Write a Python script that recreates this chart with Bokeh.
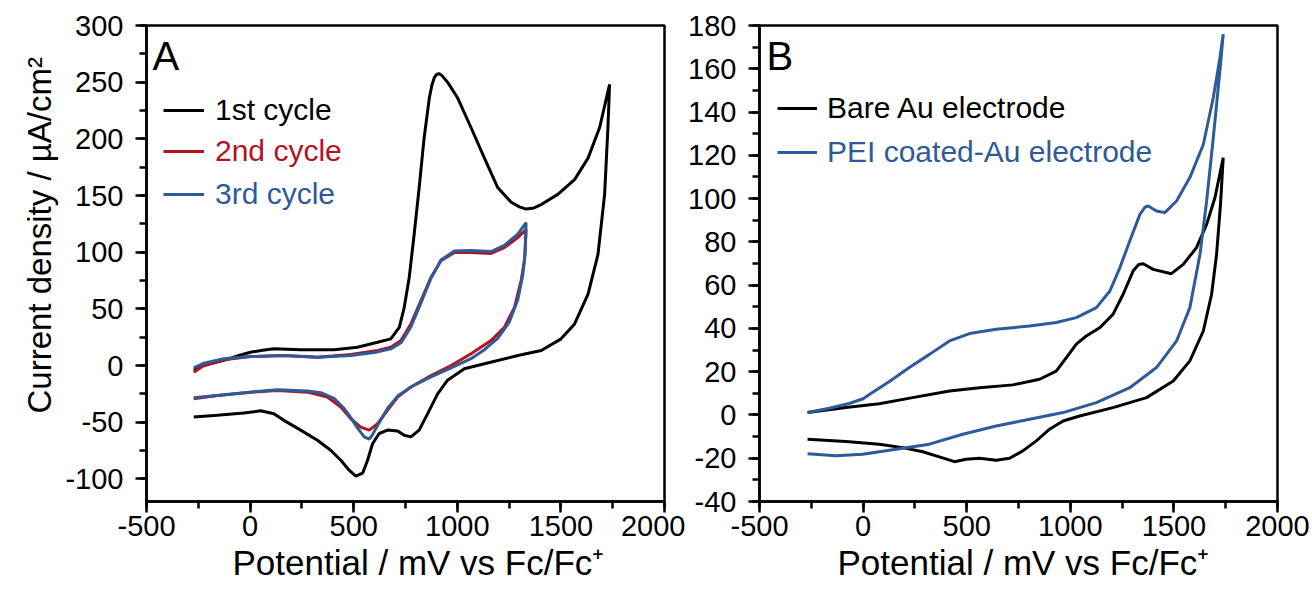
from bokeh.plotting import figure
from bokeh.models import (Range1d, SingleIntervalTicker, Legend, LegendItem, Label, Title,
                          PrintfTickFormatter)
from bokeh.layouts import row
from bokeh.embed import file_html
from bokeh.resources import INLINE

# ---------------- Panel A data (potential mV vs Fc/Fc+, current density uA/cm2)
cyc1_x = [-272, -223, -160, -100, -50, 2, 60, 115, 244, 405, 518, 615, 679, 720, 744, 768, 792, 816,
          840, 865, 877, 889, 901, 913, 925, 953, 1002, 1066, 1131, 1195, 1260, 1300, 1332, 1370, 1405,
          1485, 1566, 1631, 1687, 1735, 1727, 1711, 1679, 1631, 1566, 1501, 1405, 1292, 1131, 1034, 953,
          905, 857, 816, 776, 744, 712, 663, 623, 591, 567, 543, 510, 478, 438, 389, 325, 244, 163, 115,
          51, -30, -159, -272]
cyc1_y = [-4, 0, 3, 6, 9, 11.7, 13.5, 14.7, 13.8, 13.8, 16.1, 20.5, 23.5, 33.7, 51.3, 77.7, 116, 157,
          201, 236, 247, 254, 257, 257.5, 256, 250, 236, 210, 183, 157, 144, 140, 138, 139, 142,
          151, 164, 183, 210, 248, 210, 151, 98, 63, 36.7, 23.5, 13.2, 8.8, 1.5, -2.9, -13,
          -25, -42.5, -57, -63, -61.6, -57.8, -57, -60, -69, -83.6, -95, -97.7, -92.4, -83.6, -74.8,
          -66, -57, -48.4, -42.5, -40, -42, -44, -45.5]

cyc2_x = [-272, -223, -127, 2, 163, 325, 486, 615, 679, 728, 776, 824, 873, 921, 986, 1066, 1163, 1227,
          1292, 1332, 1324, 1308, 1276, 1227, 1163, 1066, 970, 873, 776, 712, 663, 615, 575, 534, 486,
          438, 373, 277, 131, 2, -159, -272]
cyc2_y = [-5.9, 0, 5, 7.9, 8.8, 7.3, 9.7, 13.2, 16.1, 22, 36.7, 57, 77.7, 92.4, 99.7, 99.7, 98.9, 104,
          113, 120, 92.4, 74.8, 51.3, 33.7, 22, 10.3, 0, -8.8, -19, -27.9, -39.6, -51.3, -57, -54.3, -47,
          -36.7, -27.9, -23.5, -22, -23.5, -26.4, -29.3]

cyc3_x = [-272, -223, -127, 2, 163, 325, 486, 615, 679, 728, 776, 824, 873, 921, 986, 1066, 1163, 1227,
          1292, 1332, 1328, 1316, 1292, 1250, 1195, 1131, 1066, 970, 873, 776, 712, 663, 615, 591, 575,
          551, 518, 486, 454, 405, 341, 277, 131, 2, -159, -272]
cyc3_y = [-2, 2, 6, 7.9, 8.8, 7.3, 8.8, 12, 14.7, 20, 34, 55, 77, 93, 101, 101.5, 100.5, 106,
          116, 126, 100, 80, 58, 38, 24, 14, 6, -2, -10, -19, -27, -38, -53, -61, -65,
          -63, -55, -46, -38, -29, -24, -22.5, -21.5, -23.5, -26.5, -28.5]

# ---------------- Panel B data
bare_x = [-268, -83, 78, 239, 417, 562, 723, 852, 932, 981, 1029, 1077, 1142, 1206, 1255, 1303, 1330,
          1352, 1400, 1488, 1545, 1609, 1658, 1698, 1738, 1725, 1706, 1682, 1642, 1577, 1497, 1368,
          1206, 1045, 965, 900, 836, 771, 707, 642, 562, 497, 441, 368, 288, 191, 78, -83, -268]
bare_y = [1.1, 3.4, 5.2, 8, 11.1, 12.6, 13.9, 16.5, 20.3, 26.5, 32.7, 36.5, 40.3, 46.5, 55.8, 66.5, 69.5,
          69.9, 67.3, 65.3, 69.6, 77.3, 88.1, 100.4, 118.9, 97.4, 74.3, 55.8, 38.8, 25, 15.7, 8,
          3.4, -0.5, -2.8, -6.6, -12, -16.6, -20, -20.9, -20, -20.5, -21.6, -19.4, -17, -15.1, -13.5,
          -12.3, -11.2]

pei_x = [-268, -163, -67, 0, 30, 127, 223, 320, 417, 514, 642, 804, 932, 1029, 1126, 1191, 1239, 1287,
         1336, 1360, 1376, 1416, 1456, 1513, 1577, 1642, 1690, 1722, 1738, 1722, 1690, 1658, 1626,
         1577, 1513, 1416, 1287, 1126, 965, 804, 642, 481, 320, 159, -2, -131, -268]
pei_y = [1.1, 3.1, 5.3, 7.5, 9.5, 15.5, 21.9, 28, 34.2, 37.6, 39.6, 41.1, 42.7, 45, 49.6, 57.3, 68, 80.4,
         92.7, 96, 96.6, 94.3, 93.5, 98.9, 109.7, 125, 146.6, 165, 176, 159, 128, 98.9, 74.3,
         49.6, 34.2, 21.9, 12.6, 5.7, 1.1, -2, -5.1, -8.9, -13.5, -15.9, -18.2, -18.9, -17.9]

x_ticks_interval = 500
legend_A = ["1st cycle", "2nd cycle", "3rd cycle"]
legend_B = ["Bare Au electrode", "PEI coated-Au electrode"]

BLACK = "#000000"
RED = "#B3141C"
BLUE = "#2E5A9A"
FONT = "Liberation Sans"
XLABEL = "Potential / mV vs Fc/Fc\u207a"
YLABEL = "Current density / \u00b5A/cm\u00b2"


def style(p, y_interval, xlabel_offset):
    p.toolbar_location = None
    p.xgrid.visible = False
    p.ygrid.visible = False
    p.outline_line_color = "black"
    p.outline_line_width = 2.5
    p.background_fill_color = "white"
    p.border_fill_color = "white"
    p.xaxis.ticker = SingleIntervalTicker(interval=x_ticks_interval, num_minor_ticks=2)
    p.yaxis.ticker = SingleIntervalTicker(interval=y_interval, num_minor_ticks=2)
    for ax in (p.xaxis[0], p.yaxis[0]):
        ax.formatter = PrintfTickFormatter(format="%d")
        ax.axis_line_width = 2.5
        ax.major_tick_line_width = 2.5
        ax.minor_tick_line_width = 2.5
        ax.major_tick_out = 11
        ax.major_tick_in = 0
        ax.minor_tick_out = 7
        ax.minor_tick_in = 0
        ax.major_label_text_font = FONT
        ax.major_label_text_font_size = "29px"
        ax.major_label_text_color = "black"
    p.xaxis.major_label_standoff = 3
    p.yaxis.major_label_standoff = 12
    p.add_layout(Title(text=XLABEL, align="left", offset=xlabel_offset, text_font=FONT,
                       text_font_size="35px", text_font_style="normal", text_color="black",
                       standoff=5), "below")


def add_legend(p, renderer, label, color, x, y, glyph_w, standoff):
    lg = Legend(items=[LegendItem(label=label, renderers=[renderer])], location=(x, y),
                padding=0, margin=0, spacing=0, border_line_alpha=0, background_fill_alpha=0,
                glyph_width=glyph_w, glyph_height=20, label_standoff=standoff,
                label_text_font=FONT, label_text_font_size="30px", label_text_color=color)
    p.add_layout(lg)


# ---------------- Panel A
pA = figure(frame_width=518, frame_height=476, output_backend="svg", toolbar_location=None,
            x_range=Range1d(-500, 2000), y_range=Range1d(-120, 300),
            min_border_left=146, min_border_right=21, min_border_top=25, min_border_bottom=80)
style(pA, 50, 86)
rA1 = pA.line(cyc1_x, cyc1_y, line_color=BLACK, line_width=3)
rA2 = pA.line(cyc2_x, cyc2_y, line_color=RED, line_width=3)
rA3 = pA.line(cyc3_x, cyc3_y, line_color=BLUE, line_width=3)
pA.add_layout(Title(text=YLABEL, align="left", offset=88, text_font=FONT, text_font_size="33px",
                    text_font_style="normal", text_color="black", standoff=9), "left")
add_legend(pA, rA1, legend_A[0], BLACK, 17, 374, 41, 11)
add_legend(pA, rA2, legend_A[1], RED, 17, 333, 41, 11)
add_legend(pA, rA3, legend_A[2], BLUE, 17, 290, 41, 11)
pA.add_layout(Label(x=6, y=468, x_units="screen", y_units="screen", text="A", text_font=FONT,
                    text_font_size="40px", text_color="black", text_baseline="top"))

# ---------------- Panel B
pB = figure(frame_width=518, frame_height=476, output_backend="svg", toolbar_location=None,
            x_range=Range1d(-500, 2000), y_range=Range1d(-40, 180),
            min_border_left=72, min_border_right=37, min_border_top=25, min_border_bottom=80)
style(pB, 20, 78)
rB1 = pB.line(bare_x, bare_y, line_color=BLACK, line_width=3)
rB2 = pB.line(pei_x, pei_y, line_color=BLUE, line_width=3)
add_legend(pB, rB1, legend_B[0], BLACK, 18, 376, 40, 10)
add_legend(pB, rB2, legend_B[1], BLUE, 18, 332, 40, 10)
pB.add_layout(Label(x=7, y=468, x_units="screen", y_units="screen", text="B", text_font=FONT,
                    text_font_size="40px", text_color="black", text_baseline="top"))

layout = row(pA, pB)
open("out.html", "w").write(file_html(layout, INLINE))
